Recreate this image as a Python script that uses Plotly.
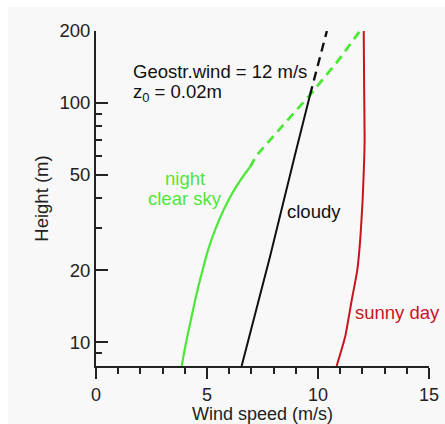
import numpy as np
import plotly.graph_objects as go

# ---- data (wind speed in m/s, height in m) ----
night_solid_speed = [3.86, 4.05, 4.30, 4.57, 4.80, 5.05, 5.36, 5.74, 6.22, 6.67, 6.94]
night_solid_height = [7.95, 9.9, 12.7, 16.5, 20, 24.3, 29.4, 35.6, 43.2, 50.0, 54]
night_dash_speed = [6.94, 7.24, 8.44, 9.64, 10.90, 11.89]
night_dash_height = [54, 60.5, 81, 108, 150, 200]

cloudy_solid_speed = [6.56, 7.84, 8.96, 9.64]
cloudy_solid_height = [7.95, 22.8, 60.5, 108]
cloudy_dash_speed = [9.64, 10.4]
cloudy_dash_height = [108, 200]

sunny_speed = [10.84, 11.22, 11.52, 11.77, 11.90, 12.01, 12.08, 12.10, 12.08, 12.06]
sunny_height = [7.95, 10.5, 15, 20, 26.7, 39.3, 57.8, 70, 110, 200]

x_major = [0, 5, 10, 15]
y_major = [10, 20, 50, 100, 200]
y_minor = [9, 30, 40, 60, 70, 80, 90]

GREEN = "#4fe63a"
BLACK = "#111111"
RED = "#c8141e"
AX = "#222222"
FONT = "Liberation Sans, Arial, sans-serif"

fig = go.Figure()
fig.add_trace(go.Scatter(x=night_solid_speed, y=night_solid_height, mode="lines",
                         line=dict(color=GREEN, width=2.2, shape="spline", smoothing=0.6), showlegend=False))
fig.add_trace(go.Scatter(x=night_dash_speed, y=night_dash_height, mode="lines",
                         line=dict(color=GREEN, width=2.8, dash="9px,6px"), showlegend=False))
fig.add_trace(go.Scatter(x=cloudy_solid_speed, y=cloudy_solid_height, mode="lines",
                         line=dict(color=BLACK, width=2.0), showlegend=False))
fig.add_trace(go.Scatter(x=cloudy_dash_speed, y=cloudy_dash_height, mode="lines",
                         line=dict(color=BLACK, width=2.4, dash="9px,6px"), showlegend=False))
fig.add_trace(go.Scatter(x=sunny_speed, y=sunny_height, mode="lines",
                         line=dict(color=RED, width=2.0, shape="spline", smoothing=0.5), showlegend=False))

def ann(text, x, y, color, anchor="center", size=18.5):
    fig.add_annotation(text=text, x=x, y=np.log10(y), xref="x", yref="y",
                       showarrow=False, xanchor=anchor, yanchor="middle",
                       font=dict(color=color, size=size, family=FONT))

ann("Geostr.wind = 12 m/s", 1.58, 136, BLACK, anchor="left")
ann("z<sub>0</sub> = 0.02m", 1.58, 110, BLACK, anchor="left")
ann("night", 4.0, 48.5, GREEN)
ann("clear sky", 4.0, 40.0, GREEN)
ann("cloudy", 9.82, 35.3, BLACK)
ann("sunny day", 13.6, 13.35, RED)

# light grey panel (white border at top/left of the original picture)
fig.add_shape(type="rect", xref="paper", yref="paper", x0=-0.264, x1=1.06, y0=-0.2, y1=1.0716,
              fillcolor="#f8f8f8", line=dict(width=0), layer="below")

fig.update_layout(
    width=445, height=424,
    margin=dict(l=96, r=16, t=31, b=58, autoexpand=False),
    paper_bgcolor="white", plot_bgcolor="rgba(0,0,0,0)",
    font=dict(family=FONT, size=18, color=AX),
    xaxis=dict(range=[0, 15], tickvals=x_major, showline=True, linecolor=AX, linewidth=2,
               ticks="outside", ticklen=11, tickwidth=2, tickcolor=AX,
               showgrid=False, zeroline=False, automargin=False,
               tickfont=dict(size=18, color=AX),
               minor=dict(dtick=1, ticks="outside", ticklen=6, tickwidth=2, tickcolor=AX, showgrid=False),
               title=dict(text="Wind speed (m/s)", font=dict(size=18, color=AX), standoff=4)),
    yaxis=dict(type="log", range=[np.log10(7.95), np.log10(200)], tickvals=y_major,
               ticktext=[str(v) for v in y_major],
               showline=True, linecolor=AX, linewidth=2,
               ticks="inside", ticklen=12, tickwidth=2, tickcolor=AX,
               showgrid=False, zeroline=False, automargin=False,
               tickfont=dict(size=18.5, color=AX),
               minor=dict(tickvals=y_minor, ticks="inside", ticklen=6, tickwidth=2, tickcolor=AX, showgrid=False),
               title=dict(text="Height (m)", font=dict(size=18.5, color=AX), standoff=6)),
)

fig.write_html("out.html")
